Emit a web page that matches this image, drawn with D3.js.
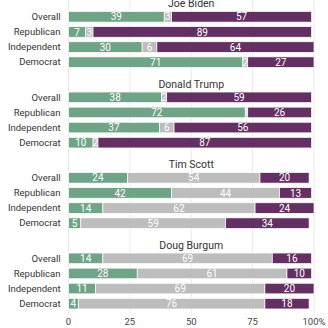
<!DOCTYPE html>
<html>
<head>
<meta charset="utf-8">
<script src="https://cdn.jsdelivr.net/npm/d3@7"></script>
<style>
  body { margin: 0; background: #fff; }
  svg { display: block; font-family: Roboto, "Noto Sans", sans-serif; }
</style>
</head>
<body>
<svg id="chart" width="328" height="328"></svg>
<script>
// candidates and groups
var candidates = ["Joe Biden", "Donald Trump", "Tim Scott", "Doug Burgum"];
var groups = ["Overall", "Republican", "Independent", "Democrat"];

// favorable / no opinion / unfavorable, one row per group
var favorable   = [[39, 7, 30, 71], [38, 72, 37, 10], [24, 42, 14, 5], [14, 28, 11, 4]];
var noOpinion   = [[3, 3, 6, 2],    [2, 1, 6, 2],     [54, 44, 62, 59], [69, 61, 69, 76]];
var unfavorable = [[57, 89, 64, 27], [59, 26, 56, 87], [20, 13, 24, 34], [16, 10, 20, 18]];

var xTicks = [0, 25, 50, 75, 100];
var colors = ["#6fa487", "#bdbdbd", "#642f62"];

var svg = d3.select("#chart");

var x = d3.scaleLinear().domain([0, 100]).range([68.5, 314]);
var panelY = d3.scaleBand().domain(candidates).range([-4, 318]);

// gridlines
svg.selectAll("line.grid")
    .data(xTicks)
    .enter()
    .append("line")
    .attr("x1", function(d) { return x(d); })
    .attr("x2", function(d) { return x(d); })
    .attr("y1", 0)
    .attr("y2", 313)
    .attr("stroke", "#e8e8e8")
    .attr("stroke-width", 1);

candidates.forEach(function(cand, ci) {
    var top = panelY(cand);
    var g = svg.append("g");

    g.append("text")
        .attr("x", x(50))
        .attr("y", top + 7.5)
        .attr("dy", "0.35em")
        .attr("text-anchor", "middle")
        .attr("font-size", 10.5)
        .attr("fill", "#333")
        .text(cand);

    var rowY = d3.scaleBand().domain(groups).range([top + 11, top + 76]).padding(0.3);

    groups.forEach(function(grp, gi) {
        var vals = [favorable[ci][gi], noOpinion[ci][gi], unfavorable[ci][gi]];
        var start = 0;
        var segs = vals.map(function(v, k) {
            var s = {x0: start, x1: start + v, v: v, k: k};
            start += v;
            return s;
        });

        g.append("text")
            .attr("x", 60.5)
            .attr("y", rowY(grp) + rowY.bandwidth() / 2)
            .attr("dy", "0.35em")
            .attr("text-anchor", "end")
            .attr("font-size", 9.5)
            .attr("fill", "#333")
            .text(grp);

        g.selectAll("rect.r" + gi)
            .data(segs)
            .enter()
            .append("rect")
            .attr("x", function(d) { return x(d.x0); })
            .attr("width", function(d) { return x(d.x1) - x(d.x0); })
            .attr("y", rowY(grp))
            .attr("height", rowY.bandwidth())
            .attr("fill", function(d) { return colors[d.k]; })
            .attr("stroke", "#fff")
            .attr("stroke-width", 0.7);

        g.selectAll("text.v" + gi)
            .data(segs)
            .enter()
            .append("text")
            .attr("x", function(d) { return (x(d.x0) + x(d.x1)) / 2; })
            .attr("y", rowY(grp) + rowY.bandwidth() / 2)
            .attr("dy", "0.36em")
            .attr("text-anchor", "middle")
            .attr("font-size", 10)
            .attr("fill", "#fff")
            .text(function(d) { return d.v; });
    });
});

// x axis labels
svg.selectAll("text.tick")
    .data(xTicks)
    .enter()
    .append("text")
    .attr("x", function(d) { return x(d); })
    .attr("y", 322)
    .attr("dy", "0.35em")
    .attr("text-anchor", "middle")
    .attr("font-size", 9.5)
    .attr("fill", "#444")
    .text(function(d) { return d == 100 ? "100%" : d; });
</script>
</body>
</html>
